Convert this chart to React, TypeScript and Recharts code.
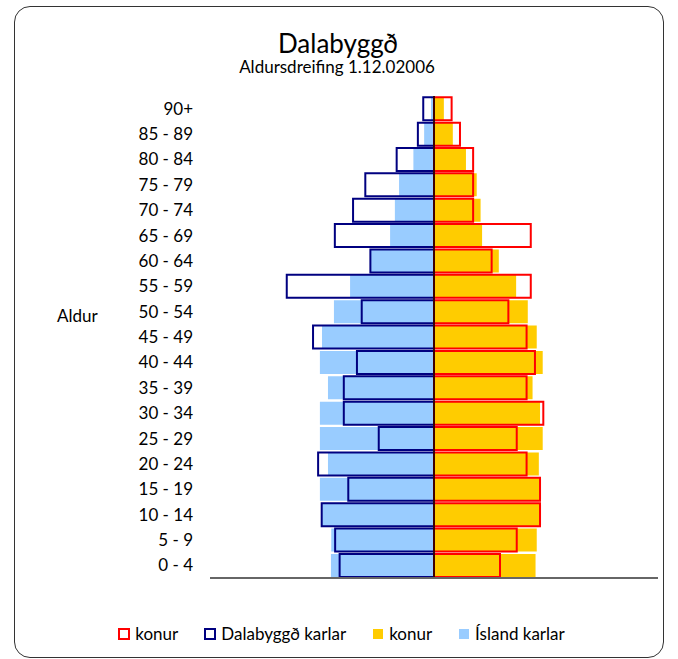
import React from 'react';
import { BarChart, Bar, XAxis, YAxis, ReferenceLine } from 'recharts';

// Age groups, bottom to top
const ageGroups = ['0 - 4', '5 - 9', '10 - 14', '15 - 19', '20 - 24', '25 - 29', '30 - 34', '35 - 39', '40 - 44', '45 - 49', '50 - 54', '55 - 59', '60 - 64', '65 - 69', '70 - 74', '75 - 79', '80 - 84', '85 - 89', '90+'];

// Share of population (%) in each age group
const dalabyggdKonur = [2.21, 2.77, 3.55, 3.55, 3.10, 2.77, 3.66, 3.10, 3.38, 3.10, 2.49, 3.24, 1.93, 3.24, 1.31, 1.31, 1.31, 0.87, 0.59];
const dalabyggdKarlar = [3.16, 3.31, 3.76, 2.87, 3.88, 1.85, 3.02, 3.02, 2.58, 4.05, 2.42, 4.93, 2.13, 3.32, 2.71, 2.30, 1.25, 0.54, 0.36];
const islandKonur = [3.40, 3.44, 3.55, 3.52, 3.51, 3.64, 3.55, 3.30, 3.64, 3.44, 3.14, 2.75, 2.17, 1.61, 1.56, 1.43, 1.07, 0.63, 0.33];
const islandKarlar = [3.45, 3.44, 3.75, 3.82, 3.55, 3.82, 3.82, 3.55, 3.82, 3.75, 3.35, 2.81, 2.14, 1.47, 1.31, 1.17, 0.69, 0.33, 0.10];

const title = 'Dalabyggð';
const subtitle = 'Aldursdreifing 1.12.02006';
const axisTitle = 'Aldur';

const rows = ageGroups.map((age, i) => ({
  age,
  dalaKonur: dalabyggdKonur[i],
  dalaKarlar: -dalabyggdKarlar[i],
  islKonur: islandKonur[i],
  islKarlar: -islandKarlar[i],
}));

const legendItems = [
  { label: 'konur', color: '#FF0000', outline: true },
  { label: 'Dalabyggð karlar', color: '#000080', outline: true },
  { label: 'konur', color: '#FFCC00', outline: false },
  { label: 'Ísland karlar', color: '#99CCFF', outline: false },
];

const FONT = 'Lato, "Open Sans", sans-serif';

export default function App() {
  return (
    <div style={{ position: 'absolute', left: 0, top: 0, width: 678, height: 659, background: '#fff', fontFamily: FONT }}>
      <div
        style={{
          position: 'absolute',
          left: 14,
          top: 6,
          width: 650,
          height: 652,
          boxSizing: 'border-box',
          border: '1.5px solid #333',
          borderRadius: 16,
        }}
      />
      <div style={{ position: 'absolute', left: 0, top: 0 }}>
        <BarChart
          width={678}
          height={659}
          data={rows}
          layout="vertical"
          margin={{ top: 96, right: 20, bottom: 71, left: 150 }}
          barCategoryGap="5%"
        >
          <XAxis
            type="number"
            domain={[-7.5, 7.5]}
            tick={false}
            tickLine={false}
            height={10}
            axisLine={{ stroke: '#666', strokeWidth: 2 }}
            allowDataOverflow
          />
          <YAxis yAxisId="islKonur" type="category" dataKey="age" reversed hide width={0} />
          <YAxis yAxisId="dalaKarlar" type="category" dataKey="age" reversed hide width={0} />
          <YAxis yAxisId="dalaKonur" type="category" dataKey="age" reversed hide width={0} />
          <YAxis
            yAxisId="islKarlar"
            type="category"
            dataKey="age"
            reversed
            width={60}
            tickLine={false}
            axisLine={false}
            tickSize={0}
            tickMargin={17}
            interval={0}
            tick={{ fill: '#000', fontSize: 17, fontFamily: FONT }}
          />
          <Bar yAxisId="islKarlar" dataKey="islKarlar" name="Ísland karlar" fill="#99CCFF" isAnimationActive={false} />
          <Bar yAxisId="islKonur" dataKey="islKonur" name="konur" fill="#FFCC00" isAnimationActive={false} />
          <Bar
            yAxisId="dalaKarlar"
            dataKey="dalaKarlar"
            name="Dalabyggð karlar"
            fill="none"
            stroke="#000080"
            strokeWidth={2}
            isAnimationActive={false}
          />
          <Bar
            yAxisId="dalaKonur"
            dataKey="dalaKonur"
            name="konur"
            fill="none"
            stroke="#FF0000"
            strokeWidth={2}
            isAnimationActive={false}
          />
          <ReferenceLine x={0} yAxisId="islKarlar" stroke="#000" strokeWidth={1.5} />
        </BarChart>
      </div>
      <svg width={678} height={659} style={{ position: 'absolute', left: 0, top: 0, pointerEvents: 'none' }}>
        <text x={338} y={53} textAnchor="middle" fontSize={26} fontFamily={FONT} fill="#000">
          {title}
        </text>
        <text x={337} y={73} textAnchor="middle" fontSize={17} fontFamily={FONT} fill="#000">
          {subtitle}
        </text>
        <text x={57} y={322} textAnchor="start" fontSize={17} fontFamily={FONT} fill="#000">
          {axisTitle}
        </text>
      </svg>
      <div
        style={{
          position: 'absolute',
          left: 0,
          width: 683,
          top: 624,
          height: 20,
          display: 'flex',
          justifyContent: 'center',
          alignItems: 'center',
          gap: 26,
          fontSize: 17,
          fontFamily: FONT,
          color: '#000',
        }}
      >
        {legendItems.map((it, i) => (
          <div key={i} style={{ display: 'flex', alignItems: 'center', gap: 5 }}>
            <div
              style={{
                width: it.outline ? 12 : 10,
                height: it.outline ? 12 : 10,
                margin: it.outline ? 0 : 1,
                boxSizing: 'border-box',
                border: it.outline ? `2px solid ${it.color}` : 'none',
                background: it.outline ? '#fff' : it.color,
              }}
            />
            <span style={{ lineHeight: '20px' }}>{it.label}</span>
          </div>
        ))}
      </div>
    </div>
  );
}
